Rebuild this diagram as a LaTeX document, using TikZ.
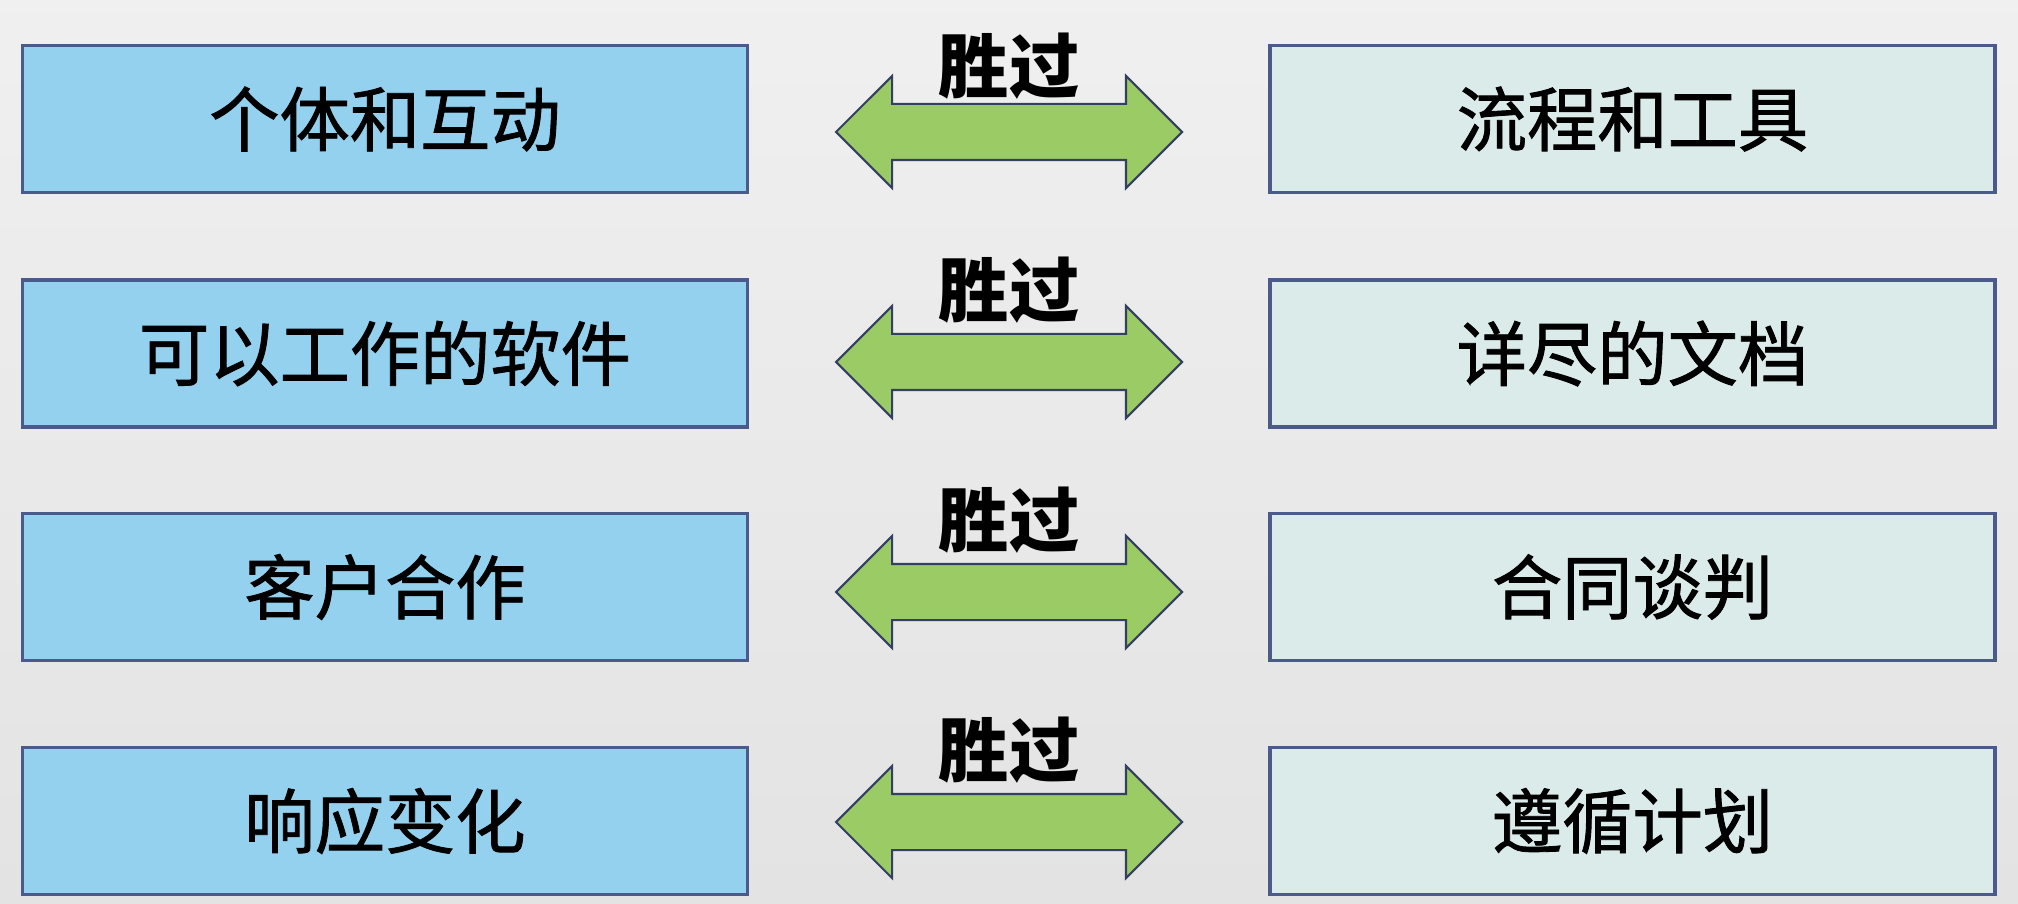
\documentclass[tikz,border=0pt]{standalone}
\usepackage{fontspec}
\newfontfamily\cjk{Noto Sans CJK SC}
\newfontfamily\cjkmid[FakeBold=1.2]{Noto Sans CJK SC}
\usepackage{xcolor}
\usepackage{tikz}
\usetikzlibrary{shapes.arrows,positioning}

\definecolor{lblue}{HTML}{93D1EE}
\definecolor{lcyan}{HTML}{DAEBE9}
\definecolor{edge}{HTML}{4A5A8A}
\definecolor{agreen}{HTML}{9BCB65}

\begin{document}
\begin{tikzpicture}[
  b/.style={draw=edge,line width=0.9pt,minimum width=7.25cm,minimum height=1.47cm,font=\cjkmid\fontsize{20pt}{24pt}\selectfont},
  dar/.style={double arrow,draw=edge!70!black,line width=0.6pt,fill=agreen,inner xsep=0pt,inner ysep=0.27cm,
    double arrow head extend=0.28cm,minimum height=3.46cm,minimum width=1.1cm},
  lab/.style={font=\cjk\bfseries\fontsize{20pt}{24pt}\selectfont,inner sep=0pt}]
\shade[top color=black!6,bottom color=black!11] (0,0) rectangle (20.18,-9.04);
\useasboundingbox (0,0) rectangle (20.18,-9.04);
% left column
\node[b,fill=lblue] (l1) at (3.85,-1.19)  {个体和互动};
\node[b,fill=lblue] (l2) at (3.85,-3.535) {可以工作的软件};
\node[b,fill=lblue] (l3) at (3.85,-5.87)  {客户合作};
\node[b,fill=lblue] (l4) at (3.85,-8.21)  {响应变化};
% right column
\node[b,fill=lcyan] (r1) at (16.325,-1.19)  {流程和工具};
\node[b,fill=lcyan] (r2) at (16.325,-3.535) {详尽的文档};
\node[b,fill=lcyan] (r3) at (16.325,-5.87)  {合同谈判};
\node[b,fill=lcyan] (r4) at (16.325,-8.21)  {遵循计划};
% arrows in between
\node[dar] (a1) at (10.09,-1.32) {};
\node[dar] (a2) at (10.09,-3.62) {};
\node[dar] (a3) at (10.09,-5.92) {};
\node[dar] (a4) at (10.09,-8.22) {};
\node[lab] (w1) at (10.09,-0.66) {胜过};
\node[lab] (w2) at (10.09,-2.90) {胜过};
\node[lab] (w3) at (10.09,-5.20) {胜过};
\node[lab] (w4) at (10.09,-7.50) {胜过};
\end{tikzpicture}
\end{document}
